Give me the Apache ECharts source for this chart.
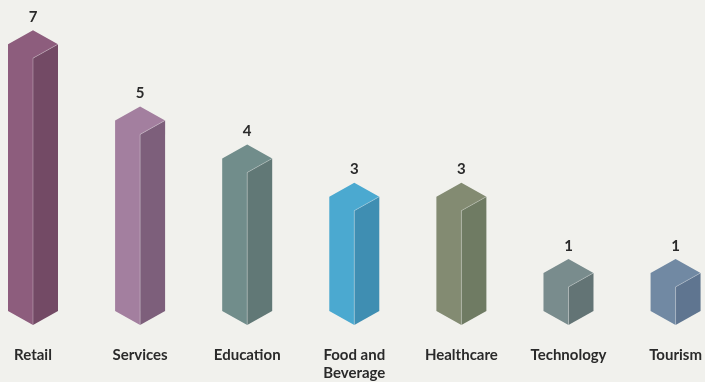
<!DOCTYPE html>
<html>
<head>
<meta charset="utf-8">
<style>
  html, body { margin: 0; padding: 0; background: #f1f1ed; }
  #chart { width: 705px; height: 382px; }
</style>
<script src="https://cdn.jsdelivr.net/npm/echarts@6/dist/echarts.min.js"></script>
</head>
<body>
<div id="chart"></div>
<script>
// Number of businesses per sector
const categories = ['Retail', 'Services', 'Education', 'Food and\nBeverage', 'Healthcare', 'Technology', 'Tourism'];
const counts = [7, 5, 4, 3, 3, 1, 1];
// Face colours for each prism: lit side (front-left + top) and shaded side (right)
const litColors = ['#8d5d7d', '#a37f9f', '#718d8b', '#4ba9d0', '#838b72', '#798c8d', '#7189a3'];
const shadeColors = ['#734a65', '#7d5f7b', '#617876', '#3f8eb2', '#6f7b63', '#637475', '#5f7590'];

const HALF_W = 25;   // half width of a prism
const SLANT = 14;    // vertical drop of the isometric top edges

const chart = echarts.init(document.getElementById('chart'));

function renderPrism(params, api) {
  const i = api.value(0);
  const v = api.value(1);
  const top = api.coord([i, v]);
  const base = api.coord([i, 0]);
  const cx = top[0], yt = top[1], yb = base[1];
  const w = HALF_W, d = SLANT;
  return {
    type: 'group',
    children: [
      {
        type: 'polygon',
        shape: { points: [[cx - w, yt - d], [cx, yt - 2 * d], [cx + w, yt - d], [cx, yt], [cx, yb], [cx - w, yb - d]] },
        style: { fill: litColors[i] }
      },
      {
        type: 'polygon',
        shape: { points: [[cx, yt], [cx + w, yt - d], [cx + w, yb - d], [cx, yb]] },
        style: { fill: shadeColors[i] }
      },
      {
        type: 'polyline',
        shape: { points: [[cx, yb], [cx, yt], [cx + w, yt - d]] },
        style: { stroke: 'rgba(255,255,255,0.28)', lineWidth: 1, fill: null }
      },
      {
        type: 'text',
        style: {
          text: String(v),
          x: cx,
          y: yt - 2 * d - 13,
          align: 'center',
          verticalAlign: 'middle',
          fontFamily: 'Lato',
          fontWeight: 'bold',
          fontSize: 15,
          fill: '#2a2a2a'
        }
      }
    ]
  };
}

chart.setOption({
  backgroundColor: '#f1f1ed',
  animation: false,
  grid: { left: 33, right: 29, top: 20, bottom: 48 },
  xAxis: {
    type: 'category',
    data: categories,
    boundaryGap: false,
    axisLine: { show: false },
    axisTick: { show: false },
    splitLine: { show: false },
    axisLabel: {
      interval: 0,
      margin: 21,
      verticalAlign: 'top',
      lineHeight: 18,
      fontFamily: 'Lato',
      fontWeight: 'bold',
      fontSize: 15,
      color: '#2a2a2a',
      align: 'center'
    }
  },
  yAxis: {
    type: 'value',
    min: 0,
    max: 8,
    show: false
  },
  series: [{
    type: 'custom',
    renderItem: renderPrism,
    data: counts.map((c, i) => [i, c]),
    clip: false
  }]
});
</script>
</body>
</html>
